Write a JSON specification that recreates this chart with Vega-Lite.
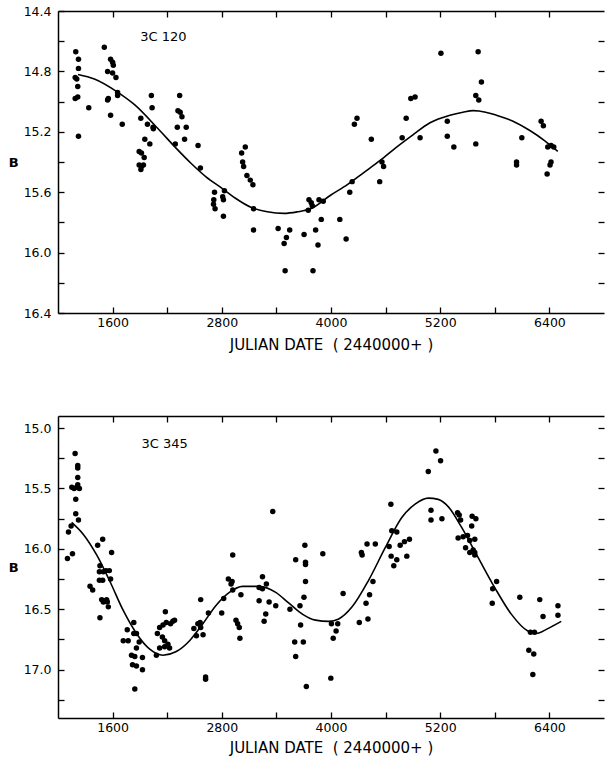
{
  "$schema": "https://vega.github.io/schema/vega-lite/v6.json",
  "background": "white",
  "padding": {"left": 8, "top": 5, "right": 0, "bottom": 0},
  "spacing": 62,
  "config": {
    "view": {"stroke": null},
    "axis": {"grid": false, "domainColor": "black", "tickColor": "black", "labelColor": "black", "titleColor": "black", "labelFont": "DejaVu Sans", "titleFont": "DejaVu Sans", "labelFontSize": 12.5, "titleFontWeight": "normal", "domainWidth": 1.5, "tickWidth": 1.3, "tickSize": -6}
  },
  "datasets": {
    "top_pts": [
      {"jd":1195,"B":14.67},{"jd":1225,"B":14.72},{"jd":1225,"B":14.78},{"jd":1189,"B":14.84},{"jd":1206,"B":14.85},{"jd":1217,"B":14.90},{"jd":1189,"B":14.98},{"jd":1217,"B":14.97},{"jd":1338,"B":15.04},{"jd":1225,"B":15.23},
      {"jd":1509,"B":14.64},{"jd":1578,"B":14.72},{"jd":1600,"B":14.74},{"jd":1608,"B":14.76},{"jd":1545,"B":14.80},{"jd":1600,"B":14.81},{"jd":1637,"B":14.84},{"jd":1655,"B":14.94},{"jd":1655,"B":14.96},{"jd":1545,"B":14.99},{"jd":1553,"B":14.98},{"jd":1578,"B":15.09},{"jd":1706,"B":15.15},
      {"jd":1910,"B":15.11},{"jd":2026,"B":14.96},{"jd":2034,"B":15.04},{"jd":1983,"B":15.15},{"jd":2045,"B":15.17},{"jd":2048,"B":15.18},{"jd":1954,"B":15.25},{"jd":2009,"B":15.28},{"jd":1892,"B":15.33},{"jd":1917,"B":15.34},{"jd":1947,"B":15.37},{"jd":1892,"B":15.42},{"jd":1917,"B":15.43},{"jd":1939,"B":15.42},{"jd":1911,"B":15.45},
      {"jd":2337,"B":14.96},{"jd":2318,"B":15.06},{"jd":2343,"B":15.07},{"jd":2362,"B":15.10},{"jd":2311,"B":15.17},{"jd":2409,"B":15.17},{"jd":2391,"B":15.25},{"jd":2289,"B":15.28},{"jd":2539,"B":15.29},{"jd":2565,"B":15.44},
      {"jd":3058,"B":15.30},{"jd":3018,"B":15.34},{"jd":3029,"B":15.40},{"jd":3040,"B":15.43},{"jd":3076,"B":15.49},{"jd":3113,"B":15.52},{"jd":3142,"B":15.55},
      {"jd":2720,"B":15.60},{"jd":2829,"B":15.59},{"jd":2712,"B":15.65},{"jd":2709,"B":15.68},{"jd":2726,"B":15.71},{"jd":2810,"B":15.63},{"jd":2818,"B":15.65},{"jd":2818,"B":15.76},
      {"jd":3149,"B":15.71},{"jd":3149,"B":15.85},{"jd":3419,"B":15.84},{"jd":3546,"B":15.85},{"jd":3510,"B":15.90},{"jd":3485,"B":15.94},{"jd":3496,"B":16.12},{"jd":3704,"B":15.88},{"jd":3802,"B":16.12},
      {"jd":3758,"B":15.65},{"jd":3783,"B":15.67},{"jd":3794,"B":15.69},{"jd":3750,"B":15.72},{"jd":3868,"B":15.65},{"jd":3915,"B":15.66},{"jd":3893,"B":15.78},{"jd":3831,"B":15.85},{"jd":3857,"B":15.95},
      {"jd":4097,"B":15.78},{"jd":4166,"B":15.91},{"jd":4206,"B":15.60},{"jd":4232,"B":15.53},{"jd":4257,"B":15.15},{"jd":4286,"B":15.11},{"jd":4443,"B":15.25},{"jd":4535,"B":15.53},{"jd":4560,"B":15.40},{"jd":4578,"B":15.43},
      {"jd":4782,"B":15.24},{"jd":4826,"B":15.11},{"jd":4877,"B":14.98},{"jd":4924,"B":14.97},{"jd":4979,"B":15.24},{"jd":5208,"B":14.68},{"jd":5278,"B":15.13},{"jd":5278,"B":15.23},{"jd":5350,"B":15.30},
      {"jd":5617,"B":14.67},{"jd":5653,"B":14.87},{"jd":5591,"B":14.96},{"jd":5624,"B":14.99},{"jd":5591,"B":15.28},
      {"jd":6039,"B":15.40},{"jd":6039,"B":15.42},{"jd":6097,"B":15.24},{"jd":6309,"B":15.13},{"jd":6334,"B":15.16},{"jd":6382,"B":15.30},{"jd":6418,"B":15.29},{"jd":6448,"B":15.30},{"jd":6418,"B":15.40},{"jd":6407,"B":15.42},{"jd":6375,"B":15.48}
    ],
    "top_curve": [
      {"jd":1220,"B":14.82},{"jd":1400,"B":14.85},{"jd":1662,"B":14.94},{"jd":1841,"B":15.02},{"jd":2100,"B":15.18},{"jd":2300,"B":15.31},{"jd":2464,"B":15.41},{"jd":2630,"B":15.50},{"jd":2792,"B":15.57},{"jd":2950,"B":15.64},{"jd":3120,"B":15.70},{"jd":3300,"B":15.73},{"jd":3485,"B":15.74},{"jd":3630,"B":15.73},{"jd":3776,"B":15.71},{"jd":3995,"B":15.62},{"jd":4180,"B":15.55},{"jd":4360,"B":15.47},{"jd":4540,"B":15.39},{"jd":4724,"B":15.30},{"jd":4900,"B":15.22},{"jd":5088,"B":15.14},{"jd":5307,"B":15.09},{"jd":5450,"B":15.07},{"jd":5562,"B":15.06},{"jd":5700,"B":15.07},{"jd":5817,"B":15.09},{"jd":6000,"B":15.13},{"jd":6181,"B":15.19},{"jd":6350,"B":15.26},{"jd":6492,"B":15.33}
    ],
    "bot_pts": [
      {"jd":1188,"B":15.21},{"jd":1217,"B":15.31},{"jd":1217,"B":15.33},{"jd":1217,"B":15.41},{"jd":1152,"B":15.49},{"jd":1177,"B":15.50},{"jd":1206,"B":15.49},{"jd":1235,"B":15.50},{"jd":1217,"B":15.47},{"jd":1195,"B":15.59},{"jd":1195,"B":15.71},{"jd":1225,"B":15.76},{"jd":1144,"B":15.81},{"jd":1115,"B":15.86},{"jd":1159,"B":16.04},{"jd":1104,"B":16.08},
      {"jd":1436,"B":15.97},{"jd":1491,"B":15.92},{"jd":1352,"B":16.31},{"jd":1381,"B":16.34},{"jd":1461,"B":16.14},{"jd":1455,"B":16.19},{"jd":1498,"B":16.19},{"jd":1527,"B":16.18},{"jd":1564,"B":16.18},{"jd":1578,"B":16.25},{"jd":1455,"B":16.26},{"jd":1491,"B":16.26},{"jd":1589,"B":16.03},{"jd":1480,"B":16.42},{"jd":1534,"B":16.42},{"jd":1498,"B":16.44},{"jd":1553,"B":16.48},{"jd":1542,"B":16.44},{"jd":1461,"B":16.57},
      {"jd":1761,"B":16.67},{"jd":1833,"B":16.61},{"jd":1833,"B":16.70},{"jd":1862,"B":16.70},{"jd":1717,"B":16.76},{"jd":1771,"B":16.76},{"jd":1892,"B":16.77},{"jd":1862,"B":16.82},{"jd":1808,"B":16.88},{"jd":1844,"B":16.89},{"jd":1819,"B":16.96},{"jd":1862,"B":16.97},{"jd":1928,"B":16.90},{"jd":1928,"B":17.00},{"jd":1844,"B":17.16},
      {"jd":2081,"B":16.88},{"jd":2092,"B":16.70},{"jd":2117,"B":16.65},{"jd":2154,"B":16.63},{"jd":2190,"B":16.61},{"jd":2237,"B":16.62},{"jd":2262,"B":16.60},{"jd":2281,"B":16.59},{"jd":2180,"B":16.52},{"jd":2147,"B":16.73},{"jd":2172,"B":16.76},{"jd":2208,"B":16.79},{"jd":2226,"B":16.82},{"jd":2172,"B":16.81},{"jd":2117,"B":16.82},
      {"jd":2493,"B":16.66},{"jd":2537,"B":16.62},{"jd":2562,"B":16.61},{"jd":2521,"B":16.72},{"jd":2594,"B":16.71},{"jd":2568,"B":16.65},{"jd":2568,"B":16.42},{"jd":2653,"B":16.53},{"jd":2622,"B":17.06},{"jd":2622,"B":17.08},
      {"jd":2799,"B":16.53},{"jd":2821,"B":16.41},{"jd":2920,"B":16.05},{"jd":2872,"B":16.25},{"jd":2913,"B":16.27},{"jd":2902,"B":16.29},{"jd":2920,"B":16.34},{"jd":3010,"B":16.38},{"jd":2956,"B":16.59},{"jd":2974,"B":16.62},{"jd":2992,"B":16.65},{"jd":2999,"B":16.74},
      {"jd":3210,"B":16.32},{"jd":3247,"B":16.33},{"jd":3290,"B":16.29},{"jd":3247,"B":16.23},{"jd":3210,"B":16.43},{"jd":3283,"B":16.54},{"jd":3265,"B":16.60},{"jd":3320,"B":16.44},{"jd":3393,"B":16.47},{"jd":3360,"B":15.69},
      {"jd":3549,"B":16.50},{"jd":3612,"B":16.09},{"jd":3659,"B":16.47},{"jd":3666,"B":16.63},{"jd":3703,"B":16.40},{"jd":3601,"B":16.77},{"jd":3696,"B":16.77},{"jd":3612,"B":16.89},{"jd":3713,"B":15.97},{"jd":3720,"B":16.11},{"jd":3720,"B":16.13},{"jd":3720,"B":16.27},{"jd":3729,"B":17.14},
      {"jd":3910,"B":16.04},{"jd":4005,"B":16.62},{"jd":4074,"B":16.62},{"jd":4056,"B":16.68},{"jd":4024,"B":16.74},{"jd":3998,"B":17.07},{"jd":4133,"B":16.37},
      {"jd":4311,"B":16.61},{"jd":4406,"B":16.58},{"jd":4385,"B":16.45},{"jd":4424,"B":16.38},{"jd":4461,"B":16.27},{"jd":4334,"B":16.03},{"jd":4342,"B":16.05},{"jd":4396,"B":15.96},{"jd":4487,"B":15.96},
      {"jd":4658,"B":15.63},{"jd":4639,"B":15.98},{"jd":4668,"B":15.85},{"jd":4723,"B":15.86},{"jd":4661,"B":16.06},{"jd":4723,"B":16.09},{"jd":4690,"B":16.14},{"jd":4760,"B":15.97},{"jd":4807,"B":15.94},{"jd":4862,"B":15.92},{"jd":4833,"B":16.06},
      {"jd":5069,"B":15.36},{"jd":5153,"B":15.19},{"jd":5204,"B":15.27},{"jd":5099,"B":15.68},{"jd":5099,"B":15.76},{"jd":5219,"B":15.75},
      {"jd":5391,"B":15.70},{"jd":5409,"B":15.72},{"jd":5424,"B":15.76},{"jd":5551,"B":15.73},{"jd":5592,"B":15.75},{"jd":5546,"B":15.81},{"jd":5397,"B":15.91},{"jd":5452,"B":15.90},{"jd":5500,"B":15.89},{"jd":5525,"B":15.93},{"jd":5580,"B":15.92},{"jd":5479,"B":15.99},{"jd":5525,"B":16.03},{"jd":5580,"B":16.03},{"jd":5562,"B":16.01},{"jd":5580,"B":16.05},
      {"jd":5777,"B":16.33},{"jd":5820,"B":16.27},{"jd":5772,"B":16.45},{"jd":6075,"B":16.40},{"jd":6294,"B":16.42},{"jd":6494,"B":16.47},{"jd":6330,"B":16.56},{"jd":6494,"B":16.55},{"jd":6192,"B":16.69},{"jd":6236,"B":16.69},{"jd":6174,"B":16.84},{"jd":6228,"B":16.87},{"jd":6218,"B":17.04}
    ],
    "bot_curve": [
      {"jd":1150,"B":15.78},{"jd":1279,"B":15.88},{"jd":1425,"B":16.05},{"jd":1571,"B":16.27},{"jd":1717,"B":16.51},{"jd":1862,"B":16.70},{"jd":2008,"B":16.83},{"jd":2154,"B":16.88},{"jd":2300,"B":16.85},{"jd":2446,"B":16.76},{"jd":2592,"B":16.62},{"jd":2734,"B":16.47},{"jd":2883,"B":16.36},{"jd":3029,"B":16.31},{"jd":3210,"B":16.31},{"jd":3393,"B":16.36},{"jd":3538,"B":16.45},{"jd":3685,"B":16.54},{"jd":3830,"B":16.59},{"jd":3976,"B":16.60},{"jd":4085,"B":16.58},{"jd":4232,"B":16.48},{"jd":4413,"B":16.26},{"jd":4596,"B":15.99},{"jd":4778,"B":15.74},{"jd":4924,"B":15.63},{"jd":5069,"B":15.58},{"jd":5178,"B":15.59},{"jd":5288,"B":15.65},{"jd":5434,"B":15.82},{"jd":5616,"B":16.07},{"jd":5799,"B":16.32},{"jd":5981,"B":16.54},{"jd":6163,"B":16.68},{"jd":6254,"B":16.70},{"jd":6382,"B":16.66},{"jd":6530,"B":16.60}
    ]
  },
  "vconcat": [
    {
      "width": 546,
      "height": 302,
      "layer": [
        {
          "data": {"name": "top_pts"},
          "mark": {"type": "circle", "color": "black", "opacity": 1, "size": 30},
          "encoding": {
            "x": {"field": "jd", "type": "quantitative", "scale": {"domain": [1000, 7000], "nice": false, "zero": false},
                  "axis": {"orient": "bottom", "values": [1600, 2200, 2800, 3400, 4000, 4600, 5200, 5800, 6400], "labelExpr": "datum.value % 1200 == 400 ? format(datum.value, 'd') : ''", "labelPadding": 9, "title": "JULIAN DATE \u00a0( 2440000+ )", "titleFontSize": 15, "titlePadding": 9}},
            "y": {"field": "B", "type": "quantitative", "scale": {"domain": [14.4, 16.4], "reverse": true, "nice": false, "zero": false},
                  "axis": {"orient": "left", "values": [14.4, 14.6, 14.8, 15.0, 15.2, 15.4, 15.6, 15.8, 16.0, 16.2, 16.4], "labelExpr": "round(datum.value * 10) % 4 == 0 ? format(datum.value, '.1f') : ''", "labelPadding": 13, "title": "B", "titleAngle": 0, "titleAlign": "right", "titleBaseline": "middle", "titleFontSize": 13, "titleFontWeight": "bold", "titlePadding": 5}}
          }
        },
        {
          "data": {"name": "top_curve"},
          "mark": {"type": "line", "color": "black", "strokeWidth": 1.6, "interpolate": "monotone"},
          "encoding": {
            "x": {"field": "jd", "type": "quantitative", "scale": {"domain": [1000, 7000], "nice": false, "zero": false},
                  "axis": {"orient": "top", "values": [1600, 2200, 2800, 3400, 4000, 4600, 5200, 5800, 6400], "labels": false, "title": null}},
            "y": {"field": "B", "type": "quantitative", "scale": {"domain": [14.4, 16.4], "reverse": true, "nice": false, "zero": false},
                  "axis": {"orient": "right", "values": [14.6, 14.8, 15.0, 15.2, 15.4, 15.6, 15.8, 16.0, 16.2], "labels": false, "domain": false, "title": null}}
          }
        },
        {
          "data": {"values": [{"jd": 1903, "B": 14.575, "label": "3C 120"}]},
          "mark": {"type": "text", "align": "left", "baseline": "middle", "font": "DejaVu Sans", "fontSize": 13, "color": "black"},
          "encoding": {
            "x": {"field": "jd", "type": "quantitative", "axis": null},
            "y": {"field": "B", "type": "quantitative", "axis": null},
            "text": {"field": "label"}
          }
        }
      ],
      "resolve": {"axis": {"x": "independent", "y": "independent"}}
    },
    {
      "width": 546,
      "height": 302,
      "layer": [
        {
          "data": {"name": "bot_pts"},
          "mark": {"type": "circle", "color": "black", "opacity": 1, "size": 30},
          "encoding": {
            "x": {"field": "jd", "type": "quantitative", "scale": {"domain": [1000, 7000], "nice": false, "zero": false},
                  "axis": {"orient": "bottom", "values": [1600, 2200, 2800, 3400, 4000, 4600, 5200, 5800, 6400], "labelExpr": "datum.value % 1200 == 400 ? format(datum.value, 'd') : ''", "labelPadding": 9, "title": "JULIAN DATE \u00a0( 2440000+ )", "titleFontSize": 15, "titlePadding": 7}},
            "y": {"field": "B", "type": "quantitative", "scale": {"domain": [14.9, 17.4], "reverse": true, "nice": false, "zero": false},
                  "axis": {"orient": "left", "values": [15.0, 15.25, 15.5, 15.75, 16.0, 16.25, 16.5, 16.75, 17.0, 17.25], "labelExpr": "round(datum.value * 100) % 50 == 0 ? format(datum.value, '.1f') : ''", "labelPadding": 13, "title": "B", "titleAngle": 0, "titleAlign": "right", "titleBaseline": "middle", "titleFontSize": 13, "titleFontWeight": "bold", "titlePadding": 5}}
          }
        },
        {
          "data": {"name": "bot_curve"},
          "mark": {"type": "line", "color": "black", "strokeWidth": 1.6, "interpolate": "monotone"},
          "encoding": {
            "x": {"field": "jd", "type": "quantitative", "scale": {"domain": [1000, 7000], "nice": false, "zero": false},
                  "axis": {"orient": "top", "values": [1600, 2200, 2800, 3400, 4000, 4600, 5200, 5800, 6400], "labels": false, "title": null}},
            "y": {"field": "B", "type": "quantitative", "scale": {"domain": [14.9, 17.4], "reverse": true, "nice": false, "zero": false},
                  "axis": {"orient": "right", "values": [15.0, 15.25, 15.5, 15.75, 16.0, 16.25, 16.5, 16.75, 17.0, 17.25], "labels": false, "domain": false, "title": null}}
          }
        },
        {
          "data": {"values": [{"jd": 1917, "B": 15.135, "label": "3C 345"}]},
          "mark": {"type": "text", "align": "left", "baseline": "middle", "font": "DejaVu Sans", "fontSize": 13, "color": "black"},
          "encoding": {
            "x": {"field": "jd", "type": "quantitative", "axis": null},
            "y": {"field": "B", "type": "quantitative", "axis": null},
            "text": {"field": "label"}
          }
        }
      ],
      "resolve": {"axis": {"x": "independent", "y": "independent"}}
    }
  ]
}
